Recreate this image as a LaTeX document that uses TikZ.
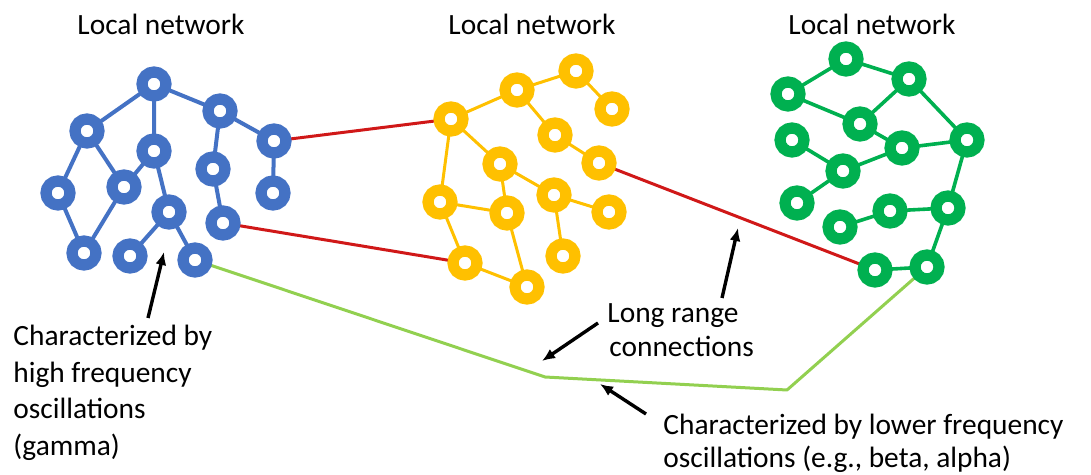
\documentclass[tikz,border=0pt]{standalone}
\usepackage{fontspec}
\setmainfont{Carlito}
\usetikzlibrary{arrows.meta,backgrounds}
\definecolor{nblue}{HTML}{4472C4}
\definecolor{nyellow}{HTML}{FFC000}
\definecolor{ngreen}{HTML}{00B050}
\definecolor{lred}{HTML}{D01818}
\definecolor{lgreen}{HTML}{92D050}
\begin{document}
\begin{tikzpicture}[x=0.5pt,y=-0.5pt,
  ring/.style={circle, draw=#1, line width=5.6pt, fill=white, minimum size=12pt, inner sep=0pt},
  bn/.style={ring=nblue}, yn/.style={ring=nyellow}, gn/.style={ring=ngreen},
  bedge/.style={draw=nblue, line width=2pt},
  yedge/.style={draw=nyellow, line width=1.5pt},
  gedge/.style={draw=ngreen, line width=1.8pt},
  redge/.style={draw=lred, line width=1.5pt},
  lgedge/.style={draw=lgreen, line width=1.5pt, line join=round},
  lbl/.style={font=\fontsize{14.7pt}{18.3pt}\selectfont, inner sep=0pt, text=black},
  pointer/.style={draw=black, line width=1.7pt, -{Latex[length=6.5pt,width=5.5pt]}}
  ]
\useasboundingbox (0,0) rectangle (1091,475);
% titles
\node[lbl, anchor=base] (t1) at (161,35) {Local network};
\node[lbl, anchor=base] (t2) at (532,35) {Local network};
\node[lbl, anchor=base] (t3) at (872,35) {Local network};
% blue network
\node[bn] (b1) at (154,84) {};
\node[bn] (b2) at (220,111) {};
\node[bn] (b3) at (274,141) {};
\node[bn] (b4) at (87,131) {};
\node[bn] (b5) at (154,151) {};
\node[bn] (b6) at (213,169) {};
\node[bn] (b7) at (273,193) {};
\node[bn] (b8) at (58,193) {};
\node[bn] (b9) at (124,187) {};
\node[bn] (b10) at (169,212) {};
\node[bn] (b11) at (223,223) {};
\node[bn] (b12) at (84,253) {};
\node[bn] (b13) at (130,256) {};
\node[bn] (b14) at (195,260) {};
% yellow network
\node[yn] (y1) at (576,71) {};
\node[yn] (y2) at (517,90) {};
\node[yn] (y3) at (612,109) {};
\node[yn] (y4) at (451,119) {};
\node[yn] (y5) at (555,135) {};
\node[yn] (y6) at (500,164) {};
\node[yn] (y7) at (599,163) {};
\node[yn] (y8) at (440,202) {};
\node[yn] (y9) at (507,213) {};
\node[yn] (y10) at (554,195) {};
\node[yn] (y11) at (609,212) {};
\node[yn] (y12) at (563,256) {};
\node[yn] (y13) at (465,263) {};
\node[yn] (y14) at (527,287) {};
% green network
\node[gn] (g1) at (846,59) {};
\node[gn] (g2) at (788,94) {};
\node[gn] (g3) at (909,79) {};
\node[gn] (g4) at (860,124) {};
\node[gn] (g5) at (792,140) {};
\node[gn] (g6) at (902,148) {};
\node[gn] (g7) at (967,140) {};
\node[gn] (g8) at (843,171) {};
\node[gn] (g9) at (797,203) {};
\node[gn] (g10) at (890,211) {};
\node[gn] (g11) at (948,208) {};
\node[gn] (g12) at (840,227) {};
\node[gn] (g13) at (875,270) {};
\node[gn] (g14) at (927,267) {};
% bends of the long green connection
\coordinate (lg1) at (545,377);
\coordinate (lg2) at (787,390);
\begin{scope}[on background layer]
  \draw[bedge] (b1.center) -- (b4.center) (b1.center) -- (b5.center) (b1.center) -- (b2.center)
    (b2.center) -- (b3.center) (b2.center) -- (b6.center) (b3.center) -- (b7.center)
    (b4.center) -- (b8.center) (b4.center) -- (b9.center) (b5.center) -- (b9.center)
    (b5.center) -- (b10.center) (b8.center) -- (b12.center) (b9.center) -- (b12.center)
    (b10.center) -- (b13.center) (b10.center) -- (b14.center) (b6.center) -- (b11.center);
  \draw[yedge] (y1.center) -- (y2.center) (y1.center) -- (y3.center) (y2.center) -- (y4.center)
    (y2.center) -- (y5.center) (y5.center) -- (y7.center) (y4.center) -- (y6.center)
    (y4.center) -- (y8.center) (y6.center) -- (y9.center) (y6.center) -- (y10.center)
    (y8.center) -- (y9.center) (y8.center) -- (y13.center) (y10.center) -- (y11.center)
    (y10.center) -- (y12.center) (y9.center) -- (y14.center) (y13.center) -- (y14.center);
  \draw[gedge] (g1.center) -- (g2.center) (g1.center) -- (g3.center) (g2.center) -- (g4.center)
    (g3.center) -- (g4.center) (g3.center) -- (g7.center) (g4.center) -- (g6.center)
    (g6.center) -- (g7.center) (g5.center) -- (g8.center) (g8.center) -- (g6.center)
    (g8.center) -- (g9.center) (g7.center) -- (g11.center) (g11.center) -- (g10.center)
    (g10.center) -- (g12.center) (g11.center) -- (g14.center) (g13.center) -- (g14.center);
  \draw[redge] (b3.center) -- (y4.center);
  \draw[redge] (b11.center) -- (y13.center);
  \draw[redge] (y7.center) -- (g13.center);
  \draw[lgedge] (b14.center) -- (lg1) -- (lg2) -- (g14.center);
\end{scope}
% left text
\node[lbl, anchor=base west] (h1) at (13,345) {Characterized by};
\node[lbl, anchor=base west] (h2) at (13,382) {high frequency};
\node[lbl, anchor=base west] (h3) at (13,418) {oscillations};
\node[lbl, anchor=base west] (h4) at (13,455) {(gamma)};
% long range text
\node[lbl, anchor=base west] (l1) at (607,322) {Long range};
\node[lbl, anchor=base west] (l2) at (609,357) {connections};
% bottom text
\node[lbl, anchor=base west] (c1) at (663,434) {Characterized by lower frequency};
\node[lbl, anchor=base west] (c2) at (663,467) {oscillations (e.g., beta, alpha)};
% pointers
\coordinate (p1s) at (148,318); \coordinate (p1e) at (164,252);
\coordinate (p2s) at (598,323); \coordinate (p2e) at (542,361);
\coordinate (p3s) at (722,298); \coordinate (p3e) at (738,228);
\coordinate (p4s) at (646,414); \coordinate (p4e) at (600,384);
\draw[pointer] (p1s) -- (p1e);
\draw[pointer] (p2s) -- (p2e);
\draw[pointer] (p3s) -- (p3e);
\draw[pointer] (p4s) -- (p4e);
\end{tikzpicture}
\end{document}
